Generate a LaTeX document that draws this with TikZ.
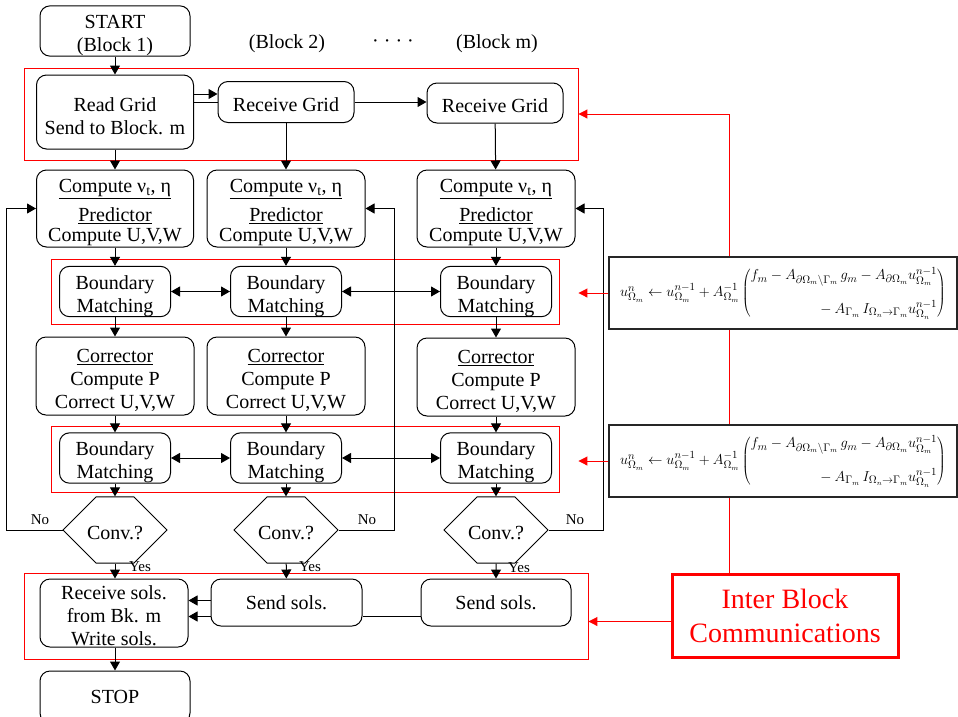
\documentclass[tikz,border=0pt]{standalone}
\usepackage{fontspec}
\setmainfont{Liberation Serif}
\usetikzlibrary{arrows.meta,shapes.misc}

% pushes the text of a box a little down
\newcommand{\vlift}[1]{\rule{0pt}{#1}}

\tikzset{
  txt/.style={font=\fontsize{20}{23}\selectfont, align=center, inner sep=0pt},
  blk/.style={txt, draw, line width=1pt, rounded corners=10pt},
  zone/.style={draw=red, line width=0.9pt, inner sep=0pt},
  hexa/.style={txt, draw, line width=1pt, chamfered rectangle,
    chamfered rectangle xsep=27pt, chamfered rectangle ysep=23pt,
    minimum width=104pt, minimum height=46pt},
  lab/.style={font=\fontsize{15}{18}\selectfont, inner sep=0pt},
  eqbox/.style={draw=black!85, line width=1.3pt, fill=white, minimum width=348pt,
    minimum height=72pt, font=\fontsize{15}{18}\selectfont},
  comm/.style={draw=red, line width=3pt, text=red, align=center,
    font=\fontsize{28}{34}\selectfont, minimum width=226pt, minimum height=83pt},
  arr/.style={line width=1pt, -{Triangle[length=9pt,width=10pt]}},
  twoway/.style={line width=1pt, {Triangle[length=9pt,width=10pt]}-{Triangle[length=9pt,width=10pt]}},
  redwire/.style={red, line width=1pt},
  redarr/.style={redwire, -{Triangle[length=9pt,width=9pt]}},
}

\begin{document}
\begin{tikzpicture}[x=1pt,y=-1pt]
\useasboundingbox (0,0) rectangle (958,716);

% block headings
\node[blk, minimum width=150pt, minimum height=47pt] (start) at (115,31) {\vlift{23pt}START\\(Block 1)};
\node[txt] (head2) at (287,44) {(Block 2)};
\node[txt] (dots) at (393,44) {· · · ·};
\node[txt] (headm) at (497,44) {(Block m)};

% grid distribution
\node[zone, minimum width=554pt, minimum height=92pt] (zone1) at (301,114) {};
\node[blk, minimum width=157pt, minimum height=74pt] (read) at (115,112) {\vlift{22pt}Read Grid\\Send to Block. m};
\node[blk, minimum width=136pt, minimum height=41pt] (recv2) at (286,102) {\vlift{20pt}Receive Grid};
\node[blk, minimum width=136pt, minimum height=40pt] (recvm) at (495,103) {\vlift{20pt}Receive Grid};

% predictor
\node[blk, minimum width=157pt, minimum height=77pt] (pred1) at (115,208.5) {\vlift{22pt}\underline{Compute ν\textsubscript{t}, η}\\[6pt]\underline{Predictor}\\[-3pt]Compute U,V,W};
\node[blk, minimum width=158pt, minimum height=77pt] (pred2) at (286,208.5) {\vlift{22pt}\underline{Compute ν\textsubscript{t}, η}\\[6pt]\underline{Predictor}\\[-3pt]Compute U,V,W};
\node[blk, minimum width=158pt, minimum height=77pt] (pred3) at (496,208.5) {\vlift{22pt}\underline{Compute ν\textsubscript{t}, η}\\[6pt]\underline{Predictor}\\[-3pt]Compute U,V,W};

\node[zone, minimum width=508pt, minimum height=65pt] (zone2) at (305,291.5) {};
\node[blk, minimum width=111pt, minimum height=49pt] (bma1) at (115,291.5) {\vlift{23pt}Boundary\\Matching};
\node[blk, minimum width=111pt, minimum height=49pt] (bma2) at (286,291.5) {\vlift{23pt}Boundary\\Matching};
\node[blk, minimum width=111pt, minimum height=49pt] (bma3) at (496,291.5) {\vlift{23pt}Boundary\\Matching};

% corrector
\node[blk, minimum width=158pt, minimum height=78pt] (corr1) at (115,376) {\vlift{22pt}\underline{Corrector}\\Compute P\\Correct U,V,W};
\node[blk, minimum width=158pt, minimum height=78pt] (corr2) at (286,376) {\vlift{22pt}\underline{Corrector}\\Compute P\\Correct U,V,W};
\node[blk, minimum width=158pt, minimum height=78pt] (corr3) at (496,377) {\vlift{22pt}\underline{Corrector}\\Compute P\\Correct U,V,W};

\node[zone, minimum width=508pt, minimum height=66pt] (zone3) at (305,459) {};
\node[blk, minimum width=111pt, minimum height=50pt] (bmb1) at (115,458) {\vlift{23pt}Boundary\\Matching};
\node[blk, minimum width=111pt, minimum height=50pt] (bmb2) at (286,458) {\vlift{23pt}Boundary\\Matching};
\node[blk, minimum width=111pt, minimum height=50pt] (bmb3) at (496,458) {\vlift{23pt}Boundary\\Matching};

% convergence tests
\node[hexa] (conv1) at (115,530) {\vlift{20pt}Conv.?};
\node[hexa] (conv2) at (286,530) {\vlift{20pt}Conv.?};
\node[hexa] (conv3) at (496,530) {\vlift{20pt}Conv.?};
\node[lab] (no1) at (40,520) {No};
\node[lab] (no2) at (367,520) {No};
\node[lab] (no3) at (575,520) {No};
\node[lab] (yes1) at (140,567) {Yes};
\node[lab] (yes2) at (310,567) {Yes};
\node[lab] (yes3) at (519,568) {Yes};

% solution gathering
\node[zone, minimum width=564pt, minimum height=86pt] (zone4) at (306,616) {};
\node[blk, minimum width=148pt, minimum height=68pt] (gather) at (114,613) {\vlift{20pt}Receive sols.\\from Bk. m\\Write sols.};
\node[blk, minimum width=151pt, minimum height=47pt] (send2) at (286.5,602.5) {Send sols.};
\node[blk, minimum width=150pt, minimum height=47pt] (sendm) at (496,602.5) {Send sols.};
\node[blk, minimum width=150pt, minimum height=52pt] (stop) at (115,697) {STOP};

% inter block communications
\node[comm] (comm) at (785,615.5) {Inter Block\\Communications};
\node[eqbox] (eq1) at (783,293) {$u^{n}_{\Omega_m} \leftarrow u^{n-1}_{\Omega_m} + A^{-1}_{\Omega_m}
  \left(\begin{array}{@{}r@{}}
  f_m - A_{\partial\Omega_m\setminus\Gamma_m}\, g_m - A_{\partial\Omega_m} u^{n-1}_{\Omega_m}\\[15pt]
  {}- A_{\Gamma_m}\, I_{\Omega_n\rightarrow\Gamma_m} u^{n-1}_{\Omega_n}
  \end{array}\right)$};
\node[eqbox] (eq2) at (783,461) {$u^{n}_{\Omega_m} \leftarrow u^{n-1}_{\Omega_m} + A^{-1}_{\Omega_m}
  \left(\begin{array}{@{}r@{}}
  f_m - A_{\partial\Omega_m\setminus\Gamma_m}\, g_m - A_{\partial\Omega_m} u^{n-1}_{\Omega_m}\\[15pt]
  {}- A_{\Gamma_m}\, I_{\Omega_n\rightarrow\Gamma_m} u^{n-1}_{\Omega_n}
  \end{array}\right)$};
\coordinate (bus) at (729,114);

% main flow
\draw[arr] (start) -- (read);
\draw[arr] ([yshift=18pt]read.east) -- ([yshift=18pt]read.east -| recv2.west);
\draw[line width=1pt] (read.east |- recv2.west) -- (recv2.west);
\draw[arr] (recv2.east) -- (recv2.east -| recvm.west);
\draw[arr] (read) -- (pred1);
\draw[arr] (recv2) -- (pred2);
\draw[arr] (recvm) -- (pred3);
\draw[arr] (pred1) -- (bma1);
\draw[arr] (pred2) -- (bma2);
\draw[arr] (pred3) -- (bma3);
\draw[twoway] (bma1) -- (bma2);
\draw[twoway] (bma2) -- (bma3);
\draw[arr] (bma1) -- (corr1);
\draw[arr] (bma2) -- (corr2);
\draw[arr] (bma3) -- (corr3.north -| bma3);
\draw[arr] (corr1) -- (bmb1);
\draw[arr] (corr2) -- (bmb2);
\draw[arr] (corr3) -- (bmb3);
\draw[twoway] (bmb1) -- (bmb2);
\draw[twoway] (bmb2) -- (bmb3);
\draw[arr] (bmb1) -- (conv1);
\draw[arr] (bmb2) -- (conv2);
\draw[arr] (bmb3) -- (conv3);
\draw[arr] (conv1.west) -- ++(-56,0) |- (pred1.west);
\draw[arr] (conv2.east) -- ++(56,0) |- (pred2.east);
\draw[arr] (conv3.east) -- ++(55,0) |- (pred3.east);
\draw[arr] (conv1.south) -- (conv1.south |- gather.north);
\draw[arr] (conv2) -- (send2);
\draw[arr] (conv3) -- (sendm);
\draw[arr] ([yshift=2pt]send2.west) -- ([yshift=2pt]send2.west -| gather.east);
\draw[line width=1pt] ([yshift=-14pt]sendm.west) -- ([yshift=-14pt]sendm.west -| send2.east);
\draw[arr] ([yshift=-14pt]send2.west) -- ([yshift=-14pt]send2.west -| gather.east);
\draw[arr] (gather.south -| stop) -- (stop);

% communication links
\draw[redwire] (comm.north -| bus) -- (eq2.south -| bus);
\draw[redwire] (eq2.north -| bus) -- (eq1.south -| bus);
\draw[redarr] (eq1.north -| bus) -- (bus) -- (zone1.east);
\draw[redarr] (eq1.west) -- (eq1.west -| zone1.east);
\draw[redarr] (eq2.west) -- (eq2.west -| zone1.east);
\draw[redarr] ([yshift=-6pt]comm.west) -- ([yshift=-6pt]comm.west -| zone4.east);
\end{tikzpicture}
\end{document}
